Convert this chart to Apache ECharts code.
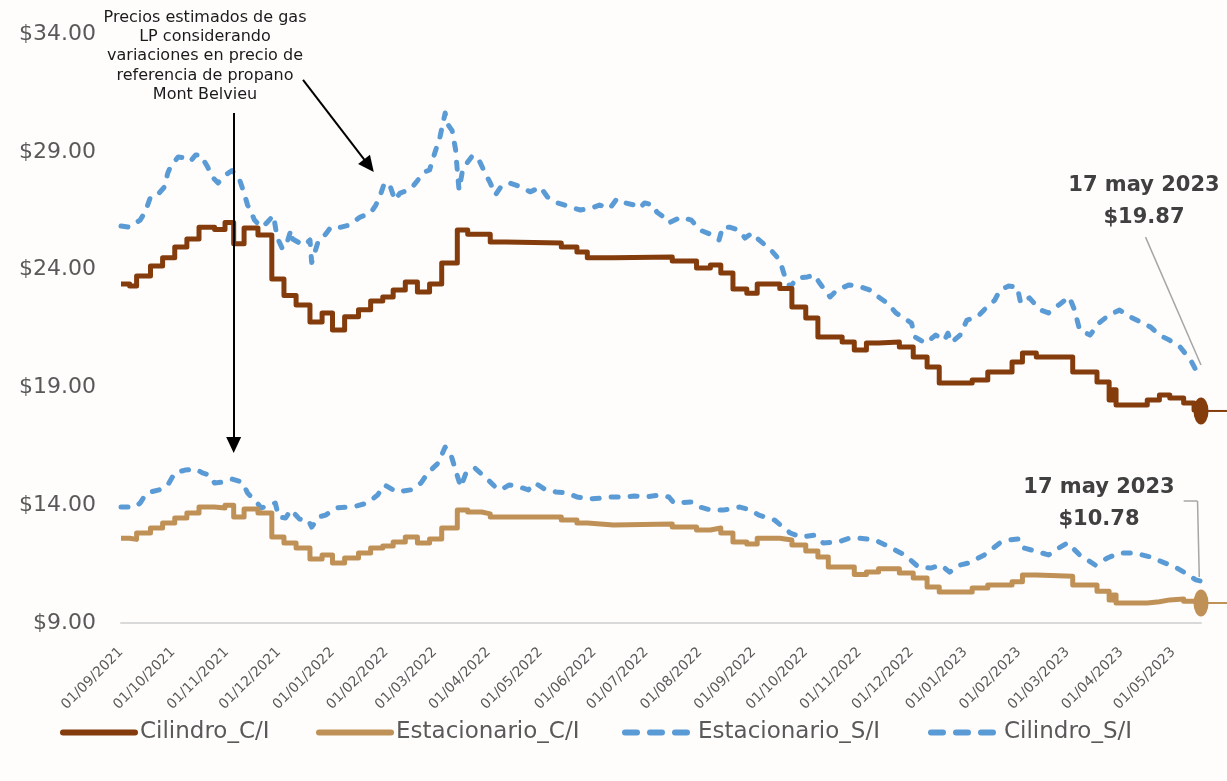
<!DOCTYPE html>
<html><head><meta charset="utf-8">
<script src="https://cdn.jsdelivr.net/npm/echarts@6/dist/echarts.min.js"></script>
<style>html,body{margin:0;padding:0;background:#fff}#c{width:1227px;height:781px}</style>
</head><body><div id="c"></div>
<script>
const FONT = 'DejaVu Sans';

// tick labels of the date axis (first of each month)
const monthTicks = ['01/09/2021','01/10/2021','01/11/2021','01/12/2021','01/01/2022','01/02/2022','01/03/2022','01/04/2022','01/05/2022','01/06/2022','01/07/2022','01/08/2022','01/09/2022','01/10/2022','01/11/2022','01/12/2022','01/01/2023','01/02/2023','01/03/2023','01/04/2023','01/05/2023'];
const axisStart = '2021-09-01';
const axisEnd = '2023-05-17';

const seriesNames = ['Cilindro_C/I', 'Estacionario_C/I', 'Estacionario_S/I', 'Cilindro_S/I'];

// Cilindro con IEPS (weekly steps)
const cilindroCI = [['2021-09-01',23.39],['2021-09-06',23.3],['2021-09-10',23.73],['2021-09-18',24.15],['2021-09-25',24.5],['2021-10-02',24.96],['2021-10-09',25.3],['2021-10-16',25.8],['2021-10-25',25.7],['2021-10-31',26.0],['2021-11-05',25.1],['2021-11-11',25.77],['2021-11-19',25.47],['2021-11-27',23.6],['2021-12-04',22.9],['2021-12-11',22.5],['2021-12-19',21.78],['2021-12-26',22.16],['2022-01-01',21.44],['2022-01-08',22.0],['2022-01-16',22.3],['2022-01-23',22.67],['2022-01-30',22.84],['2022-02-05',23.13],['2022-02-12',23.47],['2022-02-19',23.05],['2022-02-26',23.39],['2022-03-05',24.28],['2022-03-14',25.68],['2022-03-20',25.5],['2022-04-02',25.17],['2022-04-11',25.13],['2022-05-13',24.96],['2022-05-22',24.75],['2022-05-28',24.5],['2022-06-12',24.53],['2022-07-16',24.36],['2022-07-30',24.07],['2022-08-07',24.2],['2022-08-13',23.86],['2022-08-20',23.18],['2022-08-28',23.0],['2022-09-03',23.39],['2022-09-16',23.2],['2022-09-23',22.41],['2022-10-01',21.95],['2022-10-08',21.14],['2022-10-22',20.93],['2022-10-29',20.59],['2022-11-05',20.88],['2022-11-12',20.93],['2022-11-24',20.71],['2022-12-02',20.29],['2022-12-10',19.87],['2022-12-17',19.19],['2023-01-05',19.31],['2023-01-14',19.65],['2023-01-28',20.08],['2023-02-03',20.46],['2023-02-11',20.29],['2023-03-04',19.65],['2023-03-18',19.23],['2023-03-25',18.47],['2023-03-27',18.9],['2023-03-29',18.25],['2023-04-16',18.47],['2023-04-23',18.68],['2023-04-29',18.55],['2023-05-07',18.34],['2023-05-13',18.04],['2023-05-17',18.0]];

// Estacionario con IEPS (weekly steps)
const estacionarioCI = [['2021-09-01',12.6],['2021-09-06',12.55],['2021-09-10',12.82],['2021-09-18',13.03],['2021-09-25',13.24],['2021-10-02',13.46],['2021-10-09',13.67],['2021-10-16',13.92],['2021-10-25',13.88],['2021-10-31',14.0],['2021-11-05',13.5],['2021-11-11',13.84],['2021-11-19',13.67],['2021-11-27',12.65],['2021-12-04',12.4],['2021-12-11',12.18],['2021-12-19',11.72],['2021-12-26',11.89],['2022-01-01',11.55],['2022-01-08',11.76],['2022-01-16',11.97],['2022-01-23',12.18],['2022-01-30',12.27],['2022-02-05',12.44],['2022-02-12',12.65],['2022-02-19',12.4],['2022-02-26',12.57],['2022-03-05',13.03],['2022-03-14',13.8],['2022-03-20',13.71],['2022-03-28',13.63],['2022-04-02',13.5],['2022-05-13',13.37],['2022-05-22',13.24],['2022-05-28',13.16],['2022-06-12',13.2],['2022-07-16',13.07],['2022-07-30',12.95],['2022-08-07',13.03],['2022-08-13',12.82],['2022-08-20',12.44],['2022-08-28',12.35],['2022-09-03',12.6],['2022-09-16',12.52],['2022-09-23',12.31],['2022-10-01',12.06],['2022-10-08',11.8],['2022-10-14',11.38],['2022-10-29',11.06],['2022-11-05',11.16],['2022-11-12',11.3],['2022-11-24',11.12],['2022-12-02',10.91],['2022-12-10',10.53],['2022-12-17',10.32],['2023-01-05',10.49],['2023-01-14',10.61],['2023-01-28',10.75],['2023-02-03',11.04],['2023-02-11',10.98],['2023-03-04',10.61],['2023-03-18',10.35],['2023-03-25',9.98],['2023-03-27',10.19],['2023-03-29',9.85],['2023-04-16',9.9],['2023-04-23',9.98],['2023-04-29',10.02],['2023-05-07',9.92],['2023-05-13',9.85],['2023-05-17',9.85]];

// Estacionario sin IEPS
const estacionarioSI = [['2021-09-01',13.92],['2021-09-09',13.92],['2021-09-12',14.09],['2021-09-15',14.43],['2021-09-18',14.56],['2021-09-23',14.65],['2021-09-28',14.86],['2021-10-02',15.37],['2021-10-08',15.49],['2021-10-14',15.54],['2021-10-18',15.37],['2021-10-22',15.28],['2021-10-25',14.94],['2021-10-29',14.98],['2021-11-04',15.11],['2021-11-10',14.98],['2021-11-13',14.52],['2021-11-17',14.22],['2021-11-21',13.88],['2021-11-25',14.0],['2021-11-29',14.09],['2021-12-01',13.5],['2021-12-05',13.46],['2021-12-08',13.8],['2021-12-13',13.41],['2021-12-18',13.37],['2021-12-20',13.07],['2021-12-24',13.5],['2021-12-28',13.58],['2022-01-03',13.88],['2022-01-09',13.92],['2022-01-15',13.97],['2022-01-21',14.09],['2022-01-27',14.43],['2022-01-31',14.86],['2022-02-07',14.56],['2022-02-15',14.65],['2022-02-21',14.94],['2022-02-25',15.37],['2022-03-03',15.79],['2022-03-07',16.47],['2022-03-10',16.22],['2022-03-13',15.49],['2022-03-16',14.77],['2022-03-19',15.37],['2022-03-24',15.58],['2022-03-30',15.2],['2022-04-05',14.77],['2022-04-08',14.65],['2022-04-13',14.86],['2022-04-19',14.77],['2022-04-24',14.65],['2022-04-28',14.94],['2022-05-04',14.65],['2022-05-10',14.56],['2022-05-16',14.52],['2022-05-22',14.35],['2022-05-29',14.26],['2022-06-04',14.3],['2022-06-11',14.35],['2022-06-19',14.35],['2022-06-24',14.39],['2022-06-30',14.35],['2022-07-09',14.43],['2022-07-14',14.35],['2022-07-17',14.09],['2022-07-27',14.14],['2022-08-01',13.92],['2022-08-07',13.8],['2022-08-15',13.8],['2022-08-24',13.92],['2022-08-30',13.8],['2022-09-04',13.58],['2022-09-13',13.37],['2022-09-22',12.82],['2022-09-28',12.65],['2022-10-06',12.73],['2022-10-11',12.4],['2022-10-20',12.44],['2022-10-26',12.6],['2022-11-01',12.6],['2022-11-10',12.52],['2022-11-16',12.31],['2022-11-27',11.89],['2022-12-05',11.38],['2022-12-12',11.33],['2022-12-18',11.46],['2022-12-23',11.16],['2022-12-29',11.46],['2023-01-03',11.55],['2023-01-12',11.89],['2023-01-21',12.4],['2023-01-26',12.52],['2023-02-01',12.57],['2023-02-04',12.18],['2023-02-13',12.0],['2023-02-18',11.89],['2023-02-24',12.18],['2023-03-01',12.4],['2023-03-08',11.89],['2023-03-17',11.46],['2023-03-24',11.76],['2023-03-31',11.97],['2023-04-09',11.97],['2023-04-18',11.8],['2023-04-26',11.55],['2023-05-02',11.38],['2023-05-08',11.12],['2023-05-14',10.83],['2023-05-17',10.78]];

// Cilindro sin IEPS
const cilindroSI = [['2021-09-01',25.85],['2021-09-06',25.8],['2021-09-12',26.1],['2021-09-15',26.45],['2021-09-18',27.08],['2021-09-22',27.17],['2021-09-26',27.5],['2021-09-28',28.1],['2021-09-30',28.44],['2021-10-04',28.78],['2021-10-08',28.74],['2021-10-11',28.6],['2021-10-14',28.86],['2021-10-17',28.86],['2021-10-21',28.35],['2021-10-24',27.9],['2021-10-27',27.68],['2021-10-31',28.0],['2021-11-04',28.2],['2021-11-08',27.9],['2021-11-11',27.25],['2021-11-13',26.74],['2021-11-15',26.45],['2021-11-17',26.1],['2021-11-21',25.8],['2021-11-24',25.98],['2021-11-28',26.3],['2021-11-30',25.38],['2021-12-03',24.9],['2021-12-05',24.96],['2021-12-08',25.68],['2021-12-09',25.3],['2021-12-13',25.13],['2021-12-16',25.04],['2021-12-19',25.26],['2021-12-20',24.3],['2021-12-24',25.26],['2021-12-28',25.5],['2021-12-31',25.8],['2022-01-06',25.8],['2022-01-11',25.9],['2022-01-17',26.23],['2022-01-23',26.4],['2022-01-26',26.74],['2022-01-29',27.25],['2022-01-31',27.68],['2022-02-03',27.6],['2022-02-06',26.95],['2022-02-09',27.25],['2022-02-14',27.38],['2022-02-16',27.5],['2022-02-23',28.14],['2022-02-26',28.23],['2022-03-01',28.95],['2022-03-04',29.63],['2022-03-07',30.65],['2022-03-08',30.22],['2022-03-11',29.9],['2022-03-13',29.1],['2022-03-14',28.2],['2022-03-15',27.38],['2022-03-17',28.2],['2022-03-20',28.57],['2022-03-23',28.86],['2022-03-27',28.57],['2022-03-30',28.1],['2022-04-02',27.68],['2022-04-05',27.17],['2022-04-08',27.5],['2022-04-13',27.68],['2022-04-20',27.5],['2022-04-25',27.3],['2022-05-01',27.5],['2022-05-05',27.08],['2022-05-11',26.83],['2022-05-18',26.66],['2022-05-24',26.53],['2022-05-30',26.6],['2022-06-04',26.74],['2022-06-10',26.6],['2022-06-14',27.0],['2022-06-19',26.83],['2022-06-24',26.74],['2022-06-27',26.6],['2022-06-30',26.83],['2022-07-05',26.74],['2022-07-07',26.45],['2022-07-11',26.23],['2022-07-14',25.98],['2022-07-21',26.23],['2022-07-27',26.1],['2022-08-01',25.68],['2022-08-08',25.47],['2022-08-12',25.26],['2022-08-14',25.8],['2022-08-18',25.8],['2022-08-23',25.68],['2022-08-27',25.34],['2022-08-31',25.55],['2022-09-04',25.26],['2022-09-10',24.9],['2022-09-16',24.4],['2022-09-19',23.69],['2022-09-22',23.26],['2022-09-26',23.64],['2022-10-02',23.69],['2022-10-06',23.77],['2022-10-09',23.43],['2022-10-15',22.84],['2022-10-19',23.13],['2022-10-26',23.35],['2022-11-02',23.26],['2022-11-07',23.13],['2022-11-12',22.84],['2022-11-17',22.58],['2022-11-22',22.16],['2022-12-01',21.73],['2022-12-03',21.14],['2022-12-09',20.88],['2022-12-15',21.22],['2022-12-20',21.0],['2022-12-22',21.3],['2022-12-24',20.9],['2022-12-29',21.22],['2023-01-02',21.86],['2023-01-08',22.0],['2023-01-12',22.3],['2023-01-18',22.7],['2023-01-21',23.13],['2023-01-26',23.3],['2023-01-31',23.26],['2023-02-02',22.58],['2023-02-07',22.8],['2023-02-13',22.3],['2023-02-18',22.16],['2023-02-24',22.5],['2023-03-02',22.84],['2023-03-05',22.3],['2023-03-08',21.44],['2023-03-14',21.22],['2023-03-19',21.73],['2023-03-25',22.07],['2023-03-31',22.28],['2023-04-06',22.0],['2023-04-12',21.78],['2023-04-18',21.56],['2023-04-23',21.22],['2023-04-29',21.0],['2023-05-05',20.71],['2023-05-11',20.16],['2023-05-14',19.74],['2023-05-17',19.87]];

// annotation arrows and leader lines (date, value)
const arrowDown = [['2021-11-05', 30.65], ['2021-11-05', 16.56]];
const arrowDiag = [['2021-12-15', 32.05], ['2022-01-22', 28.41]];
const leaderTop = [['2023-04-15', 25.38], ['2023-05-17', 19.95]];
const leaderBottom = [['2023-05-07', 14.18], ['2023-05-15', 14.18], ['2023-05-16', 10.95]];

const noteText = 'Precios estimados de gas\nLP considerando\nvariaciones en precio de\nreferencia de propano\nMont Belvieu';
const mesesCortos = ['ene','feb','mar','abr','may','jun','jul','ago','sep','oct','nov','dic'];

const COLORS = { brown: '#843C0C', tan: '#BF9156', blue: '#5B9BD5' };

function ts(s) { const [y, m, d] = s.split('-').map(Number); return new Date(y, m - 1, d).getTime(); }
function tsDMY(s) { const [d, m, y] = s.split('/').map(Number); return new Date(y, m - 1, d).getTime(); }
function pad(n) { return (n < 10 ? '0' : '') + n; }
function fmtDMY(v) { const dt = new Date(v); return pad(dt.getDate()) + '/' + pad(dt.getMonth() + 1) + '/' + dt.getFullYear(); }
function fmtLong(s) { const dt = new Date(ts(s)); return dt.getDate() + ' ' + mesesCortos[dt.getMonth()] + ' ' + dt.getFullYear(); }
const toCoord = p => [ts(p[0]), p[1]];
const last = a => a[a.length - 1];

const chart = echarts.init(document.getElementById('c'), null, { renderer: 'canvas' });

const blueDash = [7, 12];

function legendFor(i, left, width, dashed) {
  return {
    data: [seriesNames[i]], left: left, top: 721, padding: 0,
    itemWidth: width, itemHeight: 16,
    itemStyle: { color: 'rgba(0,0,0,0)', borderWidth: 0, opacity: 0 },
    lineStyle: dashed ? { width: 6, cap: 'round', type: [12, 13] } : { width: 6, cap: 'round' },
    textStyle: { fontSize: 23, fontFamily: FONT, color: '#595959' }
  };
}

const option = {
  backgroundColor: '#fefdfc',
  animation: false,
  grid: { left: 121, right: 26, top: 34, bottom: 158, outerBoundsMode: 'none' },
  xAxis: {
    type: 'value',
    min: ts(axisStart),
    max: ts(axisEnd),
    axisLine: { show: true, lineStyle: { color: '#d9d9d9', width: 2 } },
    axisTick: { show: false },
    splitLine: { show: false },
    axisLabel: {
      customValues: monthTicks.map(tsDMY),
      formatter: v => fmtDMY(v),
      rotate: 45,
      margin: 27,
      padding: [14, 0, 0, 0],
      fontSize: 14,
      fontFamily: FONT,
      color: '#595959',
      hideOverlap: false
    }
  },
  yAxis: {
    type: 'value',
    min: 9, max: 34, interval: 5,
    axisLine: { show: false },
    axisTick: { show: false },
    splitLine: { show: false },
    axisLabel: {
      formatter: v => '$' + v.toFixed(2),
      fontSize: 22, fontFamily: FONT, color: '#595959', margin: 25
    }
  },
  legend: [
    legendFor(0, 60, 72, false),
    legendFor(1, 316, 72, false),
    legendFor(2, 622, 68, true),
    legendFor(3, 928, 68, true)
  ],
  series: [
    {
      name: seriesNames[0], type: 'line', step: 'end', symbol: 'none',
      data: cilindroCI.map(toCoord),
      color: COLORS.brown,
      lineStyle: { color: COLORS.brown, width: 5, join: 'round' },
      z: 3,
      markPoint: {
        silent: true,
        data: [
          { coord: toCoord(last(cilindroCI)), symbol: 'rect', symbolSize: [26, 2], symbolOffset: [13, 0], itemStyle: { color: COLORS.brown }, label: { show: false } },
          { coord: toCoord(last(cilindroCI)), symbol: 'circle', symbolSize: [15, 27], itemStyle: { color: COLORS.brown }, label: { show: false } }
        ]
      },
      markLine: {
        silent: true, animation: false,
        label: { show: false },
        symbol: ['none', 'none'],
        data: [
          [ { coord: toCoord(arrowDown[0]), symbol: 'none' },
            { coord: toCoord(arrowDown[1]), symbol: 'triangle', symbolSize: [15, 16],
              lineStyle: { color: '#000', width: 2, type: 'solid' }, itemStyle: { color: '#000' } } ],
          [ { coord: toCoord(arrowDiag[0]), symbol: 'none' },
            { coord: toCoord(arrowDiag[1]), symbol: 'triangle', symbolSize: [15, 16],
              lineStyle: { color: '#000', width: 2, type: 'solid' }, itemStyle: { color: '#000' } } ],
          [ { coord: toCoord(leaderTop[0]) },
            { coord: toCoord(leaderTop[1]), lineStyle: { color: '#a6a6a6', width: 1.5, type: 'solid' } } ],
          [ { coord: toCoord(leaderBottom[0]) },
            { coord: toCoord(leaderBottom[1]), lineStyle: { color: '#a6a6a6', width: 1.5, type: 'solid' } } ],
          [ { coord: toCoord(leaderBottom[1]) },
            { coord: toCoord(leaderBottom[2]), lineStyle: { color: '#a6a6a6', width: 1.5, type: 'solid' } } ]
        ]
      }
    },
    {
      name: seriesNames[1], type: 'line', step: 'end', symbol: 'none',
      data: estacionarioCI.map(toCoord),
      color: COLORS.tan,
      lineStyle: { color: COLORS.tan, width: 5, join: 'round' },
      z: 3,
      markPoint: {
        silent: true,
        data: [
          { coord: toCoord(last(estacionarioCI)), symbol: 'rect', symbolSize: [26, 2], symbolOffset: [13, 0], itemStyle: { color: COLORS.tan }, label: { show: false } },
          { coord: toCoord(last(estacionarioCI)), symbol: 'circle', symbolSize: [15, 27], itemStyle: { color: COLORS.tan }, label: { show: false } }
        ]
      }
    },
    {
      name: seriesNames[2], type: 'line', symbol: 'none',
      data: estacionarioSI.map(toCoord),
      color: COLORS.blue,
      lineStyle: { color: COLORS.blue, width: 5, type: blueDash, cap: 'round', join: 'round' },
      z: 2
    },
    {
      name: seriesNames[3], type: 'line', symbol: 'none',
      data: cilindroSI.map(toCoord),
      color: COLORS.blue,
      lineStyle: { color: COLORS.blue, width: 5, type: blueDash, cap: 'round', join: 'round' },
      z: 2
    }
  ],
  graphic: [
    { type: 'text', x: 205, y: 8, silent: true,
      style: { text: noteText, fontSize: 16, fontFamily: FONT, fill: '#1a1a1a', align: 'center', verticalAlign: 'top', lineHeight: 19.3 } },
    { type: 'text', x: 1144, y: 170, silent: true,
      style: { text: fmtLong(last(cilindroSI)[0]) + '\n$' + last(cilindroSI)[1].toFixed(2), fontSize: 21, fontWeight: 'bold', fontFamily: FONT, fill: '#404040', align: 'center', verticalAlign: 'top', lineHeight: 32 } },
    { type: 'text', x: 1099, y: 472, silent: true,
      style: { text: fmtLong(last(estacionarioSI)[0]) + '\n$' + last(estacionarioSI)[1].toFixed(2), fontSize: 21, fontWeight: 'bold', fontFamily: FONT, fill: '#404040', align: 'center', verticalAlign: 'top', lineHeight: 32 } }
  ]
};

chart.setOption(option);
</script>
</body></html>
